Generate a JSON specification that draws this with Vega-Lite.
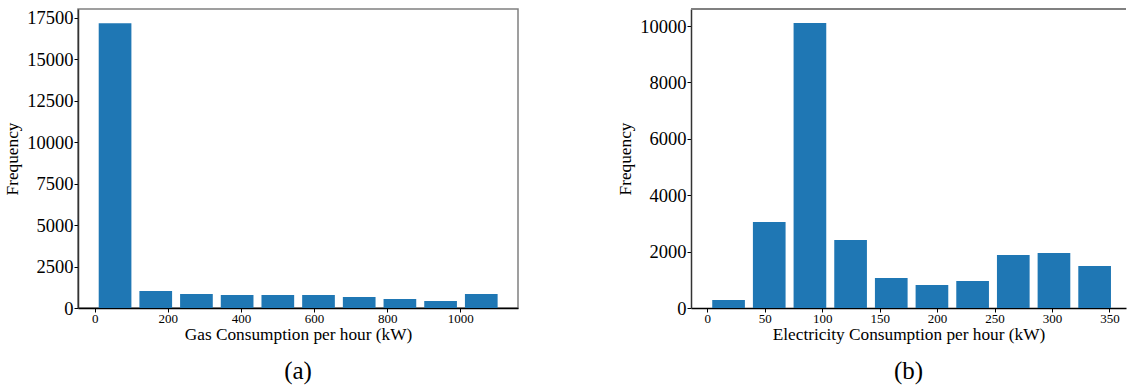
{
  "$schema": "https://vega.github.io/schema/vega-lite/v6.json",
  "padding": {"left": 3, "top": 8, "right": 0, "bottom": 0},
  "autosize": {"type": "pad"},
  "spacing": 97,
  "config": {
    "font": "Liberation Serif",
    "axis": {
      "grid": false,
      "tickColor": "#000000",
      "tickSize": 4,
      "tickWidth": 1,
      "labelColor": "#000000",
      "titleColor": "#000000",
      "titleFontWeight": "normal",
      "titleFontSize": 17.3,
      "labelFont": "Liberation Serif",
      "titleFont": "Liberation Serif",
      "format": "d"
    },
    "axisX": {"domainColor": "#000000", "domainWidth": 1.5, "labelFont": "Liberation Serif", "labelFontSize": 13, "labelPadding": 0, "titlePadding": 0, "labelAngle": 0},
    "axisY": {"domainColor": "#333333", "domainWidth": 1.5, "labelFont": "Liberation Serif", "labelFontSize": 18.5, "labelPadding": 1, "titlePadding": 5}
  },
  "hconcat": [
    {
      "width": 440,
      "height": 299,
      "view": {"stroke": "#808080", "strokeWidth": 1.5},
      "title": {"text": "(a)", "orient": "bottom", "anchor": "middle", "frame": "group", "fontSize": 25, "fontWeight": "normal", "font": "Liberation Serif", "color": "#000000", "offset": 17},
      "data": {"values": [
        {"lo": 0, "hi": 111.3, "count": 17190},
        {"lo": 111.3, "hi": 222.6, "count": 1026},
        {"lo": 222.6, "hi": 333.9, "count": 845},
        {"lo": 333.9, "hi": 445.2, "count": 785},
        {"lo": 445.2, "hi": 556.5, "count": 785},
        {"lo": 556.5, "hi": 667.8, "count": 785},
        {"lo": 667.8, "hi": 779.1, "count": 664},
        {"lo": 779.1, "hi": 890.4, "count": 543},
        {"lo": 890.4, "hi": 1001.7, "count": 422},
        {"lo": 1001.7, "hi": 1113, "count": 845}
      ]},
      "mark": {"type": "bar", "color": "#1f77b4", "xOffset": 4, "x2Offset": -4},
      "encoding": {
        "x": {"field": "lo", "type": "quantitative", "title": "Gas Consumption per hour (kW)",
              "scale": {"domain": [-45.7, 1157.8], "nice": false, "zero": false},
              "axis": {"values": [0, 200, 400, 600, 800, 1000], "format": "d"}},
        "x2": {"field": "hi"},
        "y": {"field": "count", "type": "quantitative", "title": "Frequency",
              "scale": {"domain": [0, 18043], "nice": false},
              "axis": {"values": [0, 2500, 5000, 7500, 10000, 12500, 15000, 17500], "format": "d"}},
        "y2": {"datum": 0}
      }
    },
    {
      "width": 435,
      "height": 299,
      "view": {"stroke": null},
      "title": {"text": "(b)", "orient": "bottom", "anchor": "middle", "frame": "group", "fontSize": 25, "fontWeight": "normal", "font": "Liberation Serif", "color": "#000000", "offset": 17},
      "data": {"values": [
        {"lo": 0.8, "hi": 36.2, "count": 284},
        {"lo": 36.2, "hi": 71.6, "count": 3050},
        {"lo": 71.6, "hi": 107.0, "count": 10106},
        {"lo": 107.0, "hi": 142.4, "count": 2411},
        {"lo": 142.4, "hi": 177.8, "count": 1064},
        {"lo": 177.8, "hi": 213.2, "count": 816},
        {"lo": 213.2, "hi": 248.6, "count": 957},
        {"lo": 248.6, "hi": 284.0, "count": 1879},
        {"lo": 284.0, "hi": 319.4, "count": 1950},
        {"lo": 319.4, "hi": 354.8, "count": 1489}
      ]},
      "layer": [
        {
          "mark": {"type": "bar", "color": "#1f77b4", "xOffset": 4, "x2Offset": -4},
          "encoding": {
            "x": {"field": "lo", "type": "quantitative", "title": "Electricity Consumption per hour (kW)",
                  "scale": {"domain": [-14.2, 364.4], "nice": false, "zero": false},
                  "axis": {"values": [0, 50, 100, 150, 200, 250, 300, 350], "format": "d"}},
            "x2": {"field": "hi"},
            "y": {"field": "count", "type": "quantitative", "title": "Frequency",
                  "scale": {"domain": [0, 10603], "nice": false},
                  "axis": {"values": [0, 2000, 4000, 6000, 8000, 10000], "format": "d"}},
            "y2": {"datum": 0}
          }
        },
        {
          "mark": {"type": "rule", "color": "#808080", "strokeWidth": 1.5},
          "encoding": {"y": {"datum": 10603, "type": "quantitative"}}
        }
      ]
    }
  ]
}
